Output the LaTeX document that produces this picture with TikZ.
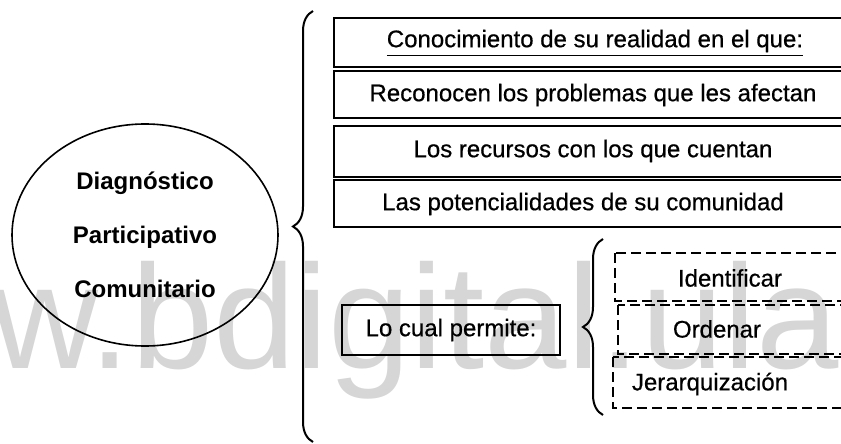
\documentclass[tikz,border=0pt]{standalone}
\usepackage{fontspec}
\setmainfont{Liberation Sans}
\newfontfamily\scanfont[FakeBold=0.6]{Liberation Sans}
\usetikzlibrary{shapes.geometric,decorations.pathreplacing}

\begin{document}
\begin{tikzpicture}
      [
        x=0.5pt, y=-0.5pt,
        every node/.style={font=\scanfont\fontsize{12}{14}\selectfont, inner sep=0pt},
        solidbox/.style={draw, line width=1.2pt},
        dashbox/.style={draw, line width=0.9pt, dash pattern=on 5pt off 2.5pt},
        bracestyle/.style={draw, line width=1pt, decorate,
          decoration={brace, amplitude=10pt}},
        circ/.style={ellipse, draw, line width=0.8pt, minimum width=133pt,
          minimum height=111pt, align=center,
          font=\fontsize{12}{27}\selectfont\bfseries},
        wm/.style={text=black!16, font=\fontsize{74}{74}\selectfont}
      ]

      \useasboundingbox (0,0) rectangle (841,444);
      \node[wm, anchor=base east] (wm) at (839,368) {w.bdigital.ula};

      \node[circ] (diag) at (145,235) {Diagnóstico\\Participativo\\Comunitario};

      \coordinate (bigtop) at (313,11);
      \coordinate (bigbot) at (313,442);
      \draw[bracestyle] (bigbot) -- (bigtop);

      \draw[solidbox] (334,18) rectangle (850,67);
      \node (t1) at (595,43) {\underline{Conocimiento de su realidad en el que:}};
      \draw[solidbox] (334,71) rectangle (850,118);
      \node (t2) at (593,95) {Reconocen los problemas que les afectan};
      \draw[solidbox] (334,126) rectangle (850,177);
      \node (t3) at (593,151) {Los recursos con los que cuentan};
      \draw[solidbox] (334,180) rectangle (850,227);
      \node (t4) at (583,204) {Las potencialidades de su comunidad};

      \node[solidbox, minimum width=109pt, minimum height=25pt] (lcp) at (451,330) {Lo cual permite:};

      \coordinate (smtop) at (603,239);
      \coordinate (smbot) at (603,415);
      \draw[bracestyle] (smbot) -- (smtop);

      \draw[dashbox] (615,253) rectangle (850,301);
      \node (d1) at (730,278) {Identificar};
      \draw[dashbox] (618,305) rectangle (850,354);
      \node (d2) at (717,329) {Ordenar};
      \draw[dashbox] (613,357) rectangle (850,408);
      \node (d3) at (710,384) {Jerarquización};

\end{tikzpicture}
\end{document}
